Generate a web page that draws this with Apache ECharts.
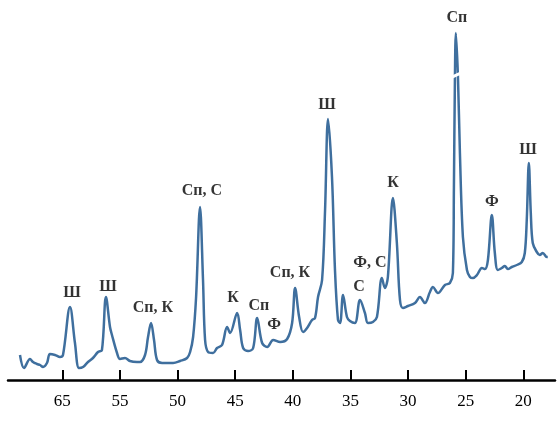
<!DOCTYPE html>
<html>
<head>
<meta charset="utf-8">
<script src="https://cdn.jsdelivr.net/npm/echarts@6/dist/echarts.min.js"></script>
<style>
  html, body { margin: 0; padding: 0; background: #fff; }
  #chart { width: 560px; height: 435px; }
</style>
</head>
<body>
<div id="chart"></div>
<script>
// 2θ, degrees (axis runs right to left)
var twoTheta = [
  63.67, 63.32, 62.80, 62.54, 62.19, 61.93, 61.67, 61.33, 61.07, 60.63, 60.20, 59.94,
  59.33, 58.90, 58.55, 58.20, 57.77, 57.34, 56.90, 56.56, 56.21, 55.86, 55.69, 55.25,
  54.99, 54.56, 54.13, 53.52, 53.26, 52.82, 52.56, 52.30, 52.04, 51.78, 51.34, 50.82,
  50.39, 49.78, 49.17, 48.91, 48.65, 48.39, 48.05, 47.79, 47.61, 47.35, 46.92, 46.57,
  46.14, 45.70, 45.44, 44.83, 44.57, 44.31, 43.88, 43.44, 43.09, 42.66, 42.22, 41.70,
  41.10, 40.49, 40.06, 39.80, 39.45, 39.11, 38.76, 38.33, 38.07, 37.81, 37.46, 37.20,
  36.94, 36.60, 36.34, 36.08, 35.90, 35.64, 35.30, 35.04, 34.61, 34.17, 33.74, 33.48,
  33.05, 32.70, 32.27, 32.01, 31.75, 31.31, 30.97, 30.70, 30.44, 30.01, 29.40, 28.97,
  28.54, 28.10, 27.84, 27.41, 26.80, 26.37, 26.11, 26.02, 25.94, 25.85, 25.67, 25.50,
  25.24, 24.89, 24.63, 24.37, 24.02, 23.59, 23.33, 23.07, 22.73, 22.47, 22.21, 21.86,
  21.60, 21.34, 21.00, 20.56, 20.13, 19.87, 19.70, 19.52, 19.35, 19.18, 18.83, 18.57,
  18.31, 17.96, 17.88
];
// intensity, arbitrary units
var intensity = [
  25, 12, 21, 18, 16, 15, 13, 17, 26, 25, 23, 25,
  73, 37, 12, 13, 18, 22, 28, 30, 83, 53, 45, 27,
  21, 22, 19, 18, 18, 25, 43, 57, 40, 20, 17, 17,
  17, 19, 22, 28, 43, 83, 173, 100, 40, 28, 27, 32,
  35, 53, 47, 67, 50, 32, 29, 32, 62, 37, 33, 40,
  38, 41, 57, 92, 63, 48, 52, 60, 62, 83, 100, 170,
  261, 203, 110, 60, 57, 85, 63, 59, 57, 80, 67, 57,
  58, 63, 102, 92, 103, 182, 137, 80, 72, 74, 77, 83,
  77, 88, 93, 87, 95, 97, 107, 193, 293, 347, 303, 227,
  143, 110, 103, 102, 105, 112, 111, 120, 165, 127, 110, 112,
  114, 111, 113, 115, 118, 127, 160, 217, 167, 137, 128, 125,
  127, 123, 123
];

// phase labels and where they sit
var phaseNames = ['Ш', 'Ш', 'Сп, К', 'Сп, С', 'К', 'Сп', 'Ф', 'Сп, К', 'Ш', 'С', 'Ф, С', 'К', 'Сп', 'Ф', 'Ш'];
var phaseX = [59.16, 56.04, 52.13, 47.88, 45.19, 42.94, 41.63, 40.24, 37.03, 34.26, 33.31, 31.31, 25.76, 22.72, 19.60];
var phaseY = [87, 93, 72, 189, 82, 74, 55, 107, 275, 93, 117, 197, 362, 178, 230];

// ticks (the first label reads 65 in the original figure)
var tickValues = [60, 55, 50, 45, 40, 35, 30, 25, 20];
var tickLabels = ['65', '55', '50', '45', '40', '35', '30', '25', '20'];

var lineData = twoTheta.map(function (t, i) { return [t, intensity[i]]; });
var labelData = phaseNames.map(function (n, i) { return { name: n, value: [phaseX[i], phaseY[i]] }; });

var chart = echarts.init(document.getElementById('chart'));
chart.setOption({
  animation: false,
  grid: { left: 8, right: 5, top: 0, bottom: 55 },
  xAxis: {
    type: 'value',
    inverse: true,
    min: 17.25,
    max: 64.71,
    splitLine: { show: false },
    axisLine: { show: true, lineStyle: { color: '#000', width: 2.5 } },
    axisTick: {
      show: true, inside: true, length: 10,
      customValues: tickValues,
      lineStyle: { color: '#000', width: 2 }
    },
    axisLabel: {
      show: true,
      customValues: tickValues,
      margin: 13,
      color: '#000',
      fontFamily: 'Liberation Serif',
      fontSize: 17,
      formatter: function (v) {
        var i = tickValues.indexOf(v);
        return i >= 0 ? tickLabels[i] : '';
      }
    }
  },
  yAxis: {
    type: 'value',
    min: 0,
    max: 380,
    show: false
  },
  series: [
    {
      type: 'line',
      data: lineData,
      showSymbol: false,
      smooth: 0.35,
      lineStyle: { color: '#3f6f9e', width: 2.5 },
      markPoint: {
        silent: true,
        symbol: 'rect',
        symbolSize: [16, 3],
        symbolRotate: 25,
        itemStyle: { color: '#fff' },
        label: { show: false },
        data: [{ coord: [25.79, 305] }]
      }
    },
    {
      type: 'scatter',
      data: labelData,
      symbolSize: 0,
      label: {
        show: true,
        position: 'inside',
        formatter: '{b}',
        color: '#000',
        fontFamily: 'Liberation Serif',
        fontWeight: 'bold',
        fontSize: 16
      }
    }
  ]
});
</script>
</body>
</html>
